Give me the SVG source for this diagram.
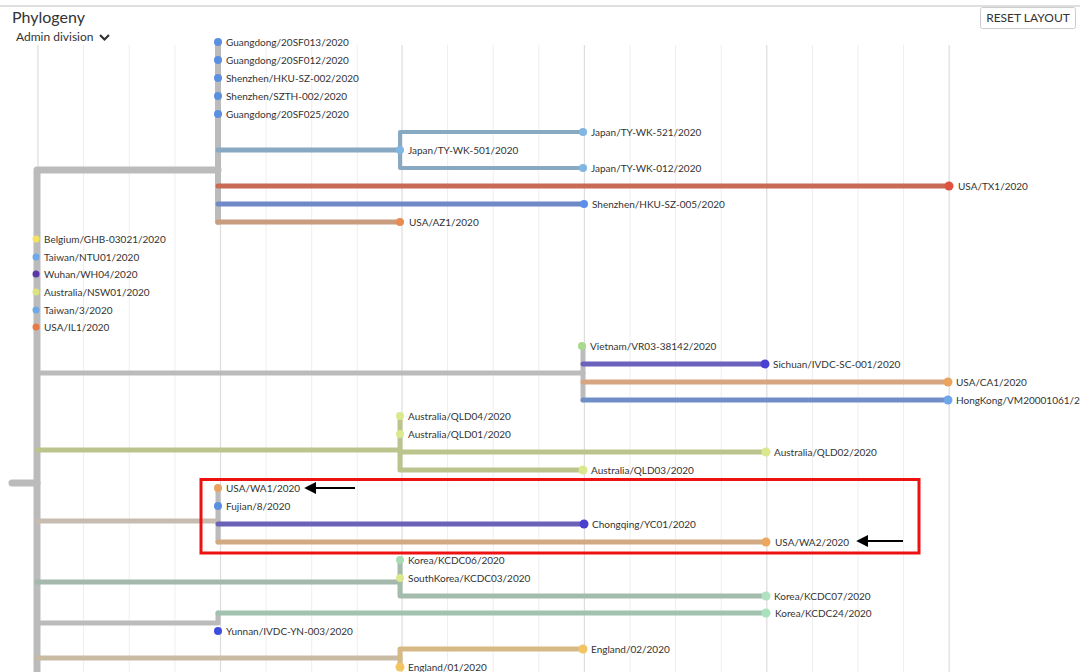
<svg xmlns="http://www.w3.org/2000/svg" width="1080" height="672" viewBox="0 0 1080 672">
<defs>
<style>
text{font-family:Lato,"Open Sans","Liberation Sans",sans-serif;fill:#333}
.lbl{font-size:10px}
.g{stroke:#eeeeee;stroke-width:1}
.gm{stroke:#dddddd;stroke-width:1.2}
.br{fill:none;stroke-linecap:round;stroke-linejoin:round}
.t0{stroke:#bbbbbb;stroke-width:7}
.t1{stroke-width:5}
.t2{stroke-width:4}
</style>
<marker id="ah" viewBox="0 0 10 10" refX="1" refY="5" markerWidth="6" markerHeight="6" orient="auto-start-reverse" markerUnits="strokeWidth">
<path d="M0,0 L10,5 L0,10 z" fill="#000"/>
</marker>
</defs>
<rect width="1080" height="672" fill="#fff"/>
<line x1="0" y1="6" x2="1080" y2="6" stroke="#d4d4d4" stroke-width="1.5"/>
<text x="12" y="23" font-size="16" fill="#444">Phylogeny</text>
<text x="16" y="41" font-size="12" fill="#444">Admin division</text>
<polyline points="100,35 104.5,39.5 109,35" fill="none" stroke="#333" stroke-width="2.2"/>
<g id="reset-button">
<rect x="980.5" y="7.5" width="95" height="21" fill="#fff" stroke="#ccc" rx="2"/>
<text x="1028" y="22" font-size="12" text-anchor="middle" fill="#444">RESET LAYOUT</text>
</g>
<g id="grid">
<line class="gm" x1="38" y1="45" x2="38" y2="672"/>
<line class="g" x1="83.6" y1="45" x2="83.6" y2="672"/>
<line class="g" x1="129.2" y1="45" x2="129.2" y2="672"/>
<line class="g" x1="174.9" y1="45" x2="174.9" y2="672"/>
<line class="gm" x1="220.5" y1="45" x2="220.5" y2="672"/>
<line class="g" x1="266.1" y1="45" x2="266.1" y2="672"/>
<line class="g" x1="311.7" y1="45" x2="311.7" y2="672"/>
<line class="g" x1="357.3" y1="45" x2="357.3" y2="672"/>
<line class="gm" x1="402" y1="45" x2="402" y2="672"/>
<line class="g" x1="447.6" y1="45" x2="447.6" y2="672"/>
<line class="g" x1="493.2" y1="45" x2="493.2" y2="672"/>
<line class="g" x1="538.8" y1="45" x2="538.8" y2="672"/>
<line class="gm" x1="584.4" y1="45" x2="584.4" y2="672"/>
<line class="g" x1="630" y1="45" x2="630" y2="672"/>
<line class="g" x1="675.6" y1="45" x2="675.6" y2="672"/>
<line class="g" x1="721.2" y1="45" x2="721.2" y2="672"/>
<line class="gm" x1="766.8" y1="45" x2="766.8" y2="672"/>
<line class="g" x1="812.4" y1="45" x2="812.4" y2="672"/>
<line class="g" x1="858" y1="45" x2="858" y2="672"/>
<line class="g" x1="903.6" y1="45" x2="903.6" y2="672"/>
<line class="gm" x1="949.2" y1="45" x2="949.2" y2="672"/>
</g>
<g id="connectors">
<path class="br t0" d="M12,483 H37"/>
<path class="br t0" d="M37,680 V170 H218"/>
<path class="br" stroke="#bbbbbb" stroke-width="6" d="M218,42 V222"/>
<path class="br t1" stroke="#88a9c2" d="M218,150 H400"/>
<path class="br t2" stroke="#88a9c2" d="M583,132 H400 V168 H583"/>
<path class="br t1" stroke="#c96a55" d="M218,186 H949"/>
<path class="br t1" stroke="#6f89c6" d="M218,204 H584"/>
<path class="br t1" stroke="#c99c80" d="M218,222 H400"/>
<path class="br t1" stroke="#bbbbbb" d="M37,373 H583"/>
<path class="br" stroke="#bbbbbb" stroke-width="5" d="M583,346 V400"/>
<path class="br t1" stroke="#6a62bc" d="M583,364 H766"/>
<path class="br t1" stroke="#d7a580" d="M583,382 H949"/>
<path class="br t1" stroke="#6f8ec8" d="M583,400 H949"/>
<path class="br t1" stroke="#bcc48e" d="M37,450 H400"/>
<path class="br t1" stroke="#bcc48e" d="M400,416 V470 H583"/>
<path class="br t1" stroke="#bcc48e" d="M400,452 H766"/>
<path class="br t1" stroke="#c8bbb0" d="M37,521 H218"/>
<path class="br" stroke="#bbbbbb" stroke-width="5" d="M218,488 V542"/>
<path class="br t1" stroke="#6a62b8" d="M218,524 H584"/>
<path class="br t1" stroke="#d1aa84" d="M218,542 H766"/>
<path class="br t1" stroke="#a4b8ab" d="M37,582 H400"/>
<path class="br t1" stroke="#a4bcab" d="M400,560 V596 H766"/>
<path class="br t1" stroke="#bbbbbb" d="M37,623 H218 V613"/>
<path class="br t1" stroke="#a0c2ae" d="M218,613 H766"/>
<path class="br t1" stroke="#c9bba3" d="M37,658 H400"/>
<path class="br t1" stroke="#d6b985" d="M400,667 V649 H583"/>
</g>
<g id="n-guangdong-20sf013"><circle cx="218" cy="42" r="4" fill="#5b8fe0"/><text class="lbl" x="226" y="46">Guangdong/20SF013/2020</text></g>
<g id="n-guangdong-20sf012"><circle cx="218" cy="60" r="4" fill="#5b8fe0"/><text class="lbl" x="226" y="64">Guangdong/20SF012/2020</text></g>
<g id="n-shenzhen-hku-sz-002"><circle cx="218" cy="78" r="4" fill="#5b8fe0"/><text class="lbl" x="226" y="82">Shenzhen/HKU-SZ-002/2020</text></g>
<g id="n-shenzhen-szth-002"><circle cx="218" cy="96" r="4" fill="#5b8fe0"/><text class="lbl" x="226" y="100">Shenzhen/SZTH-002/2020</text></g>
<g id="n-guangdong-20sf025"><circle cx="218" cy="114" r="4" fill="#5b8fe0"/><text class="lbl" x="226" y="118">Guangdong/20SF025/2020</text></g>
<g id="n-japan-ty-wk-501"><circle cx="400" cy="150" r="4" fill="#7fb6e2"/><text class="lbl" x="408" y="154">Japan/TY-WK-501/2020</text></g>
<g id="n-japan-ty-wk-521"><circle cx="583" cy="132" r="4" fill="#7fb6e2"/><text class="lbl" x="591" y="136">Japan/TY-WK-521/2020</text></g>
<g id="n-japan-ty-wk-012"><circle cx="583" cy="168" r="4" fill="#7fb6e2"/><text class="lbl" x="591" y="172">Japan/TY-WK-012/2020</text></g>
<g id="n-usa-tx1"><circle cx="949" cy="186" r="4.5" fill="#e0533f"/><text class="lbl" x="958" y="190">USA/TX1/2020</text></g>
<g id="n-shenzhen-hku-sz-005"><circle cx="584" cy="204" r="4" fill="#5b8fe8"/><text class="lbl" x="592" y="208">Shenzhen/HKU-SZ-005/2020</text></g>
<g id="n-usa-az1"><circle cx="400" cy="222" r="4" fill="#e88c52"/><text class="lbl" x="409" y="226">USA/AZ1/2020</text></g>
<g id="n-belgium"><circle cx="36" cy="239" r="3.5" fill="#f3e35e"/><text class="lbl" x="44" y="243">Belgium/GHB-03021/2020</text></g>
<g id="n-taiwan-ntu01"><circle cx="36" cy="257" r="3.5" fill="#6fa8e8"/><text class="lbl" x="44" y="261">Taiwan/NTU01/2020</text></g>
<g id="n-wuhan-wh04"><circle cx="36" cy="274" r="3.5" fill="#5a38a8"/><text class="lbl" x="44" y="278">Wuhan/WH04/2020</text></g>
<g id="n-australia-nsw01"><circle cx="36" cy="292" r="3.5" fill="#dbe47c"/><text class="lbl" x="44" y="296">Australia/NSW01/2020</text></g>
<g id="n-taiwan-3"><circle cx="36" cy="310" r="3.5" fill="#6fa8e8"/><text class="lbl" x="44" y="314">Taiwan/3/2020</text></g>
<g id="n-usa-il1"><circle cx="36" cy="327" r="3.5" fill="#e87a48"/><text class="lbl" x="44" y="331">USA/IL1/2020</text></g>
<g id="n-vietnam"><circle cx="582" cy="346" r="4" fill="#a9d98f"/><text class="lbl" x="590" y="350">Vietnam/VR03-38142/2020</text></g>
<g id="n-sichuan"><circle cx="765" cy="364" r="4.5" fill="#4a40d4"/><text class="lbl" x="773" y="368">Sichuan/IVDC-SC-001/2020</text></g>
<g id="n-usa-ca1"><circle cx="948" cy="382" r="4.5" fill="#eba460"/><text class="lbl" x="956" y="386">USA/CA1/2020</text></g>
<g id="n-hongkong"><circle cx="948" cy="400" r="4.5" fill="#6fa6ea"/><text class="lbl" x="956" y="404">HongKong/VM20001061/2020</text></g>
<g id="n-australia-qld04"><circle cx="400" cy="416" r="4" fill="#dbe88e"/><text class="lbl" x="408" y="420">Australia/QLD04/2020</text></g>
<g id="n-australia-qld01"><circle cx="400" cy="434" r="4" fill="#dbe88e"/><text class="lbl" x="408" y="438">Australia/QLD01/2020</text></g>
<g id="n-australia-qld02"><circle cx="766" cy="452" r="4.5" fill="#dbe88e"/><text class="lbl" x="774" y="456">Australia/QLD02/2020</text></g>
<g id="n-australia-qld03"><circle cx="583" cy="470" r="4.5" fill="#dbe88e"/><text class="lbl" x="591" y="474">Australia/QLD03/2020</text></g>
<g id="n-usa-wa1"><circle cx="218" cy="488" r="4" fill="#e8a35e"/><text class="lbl" x="226" y="492">USA/WA1/2020</text></g>
<g id="n-fujian-8"><circle cx="218" cy="506" r="4" fill="#5b8fe0"/><text class="lbl" x="226" y="510">Fujian/8/2020</text></g>
<g id="n-chongqing"><circle cx="584" cy="524" r="4.5" fill="#4a40d0"/><text class="lbl" x="592" y="528">Chongqing/YC01/2020</text></g>
<g id="n-usa-wa2"><circle cx="766" cy="542" r="4.5" fill="#eba860"/><text class="lbl" x="775" y="546">USA/WA2/2020</text></g>
<g id="n-korea-kcdc06"><circle cx="400" cy="560" r="4" fill="#a8dab4"/><text class="lbl" x="408" y="564">Korea/KCDC06/2020</text></g>
<g id="n-southkorea-kcdc03"><circle cx="400" cy="578" r="4" fill="#dbe88e"/><text class="lbl" x="408" y="582">SouthKorea/KCDC03/2020</text></g>
<g id="n-korea-kcdc07"><circle cx="766" cy="596" r="4.5" fill="#b0e2c0"/><text class="lbl" x="774" y="600">Korea/KCDC07/2020</text></g>
<g id="n-korea-kcdc24"><circle cx="766" cy="613" r="4.5" fill="#a8e2bc"/><text class="lbl" x="775" y="617">Korea/KCDC24/2020</text></g>
<g id="n-yunnan"><circle cx="218" cy="631" r="4" fill="#3c4de0"/><text class="lbl" x="226" y="635">Yunnan/IVDC-YN-003/2020</text></g>
<g id="n-england-02"><circle cx="583" cy="649" r="4.5" fill="#f2c462"/><text class="lbl" x="591" y="653">England/02/2020</text></g>
<g id="n-england-01"><circle cx="400" cy="667" r="4.5" fill="#f2c462"/><text class="lbl" x="408" y="671">England/01/2020</text></g>
<g id="highlight">
<rect x="201" y="479.5" width="718" height="73.5" fill="none" stroke="#ee1111" stroke-width="3"/>
<line x1="355" y1="488" x2="315" y2="488" stroke="#000" stroke-width="2" marker-end="url(#ah)"/>
<line x1="903" y1="541" x2="867" y2="541" stroke="#000" stroke-width="2" marker-end="url(#ah)"/>
</g>
</svg>
